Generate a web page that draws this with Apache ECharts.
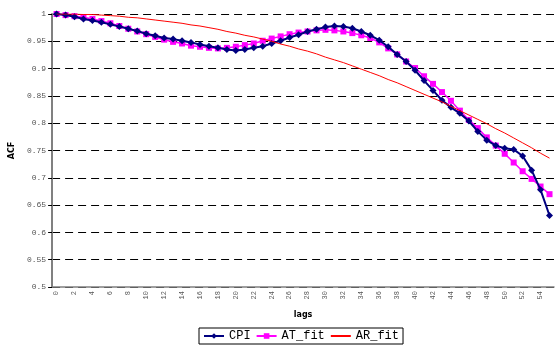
<!DOCTYPE html>
<html><head><meta charset="utf-8">
<script src="https://cdn.jsdelivr.net/npm/echarts@6/dist/echarts.min.js"></script>
<style>html,body{margin:0;padding:0;background:#fff}#c{width:557px;height:347px}</style>
</head><body><div id="c"></div>
<script>
const lags = [];
for (let i = 0; i <= 55; i++) lags.push(String(i));
const cpi = [1.000,0.998,0.995,0.991,0.988,0.985,0.981,0.977,0.973,0.969,
 0.964,0.960,0.956,0.954,0.951,0.948,0.944,0.941,0.938,0.935,
 0.933,0.935,0.938,0.941,0.946,0.951,0.957,0.962,0.968,0.972,
 0.976,0.978,0.977,0.974,0.968,0.961,0.952,0.940,0.926,0.913,
 0.897,0.878,0.860,0.842,0.829,0.818,0.804,0.785,0.769,0.759,
 0.754,0.752,0.740,0.714,0.678,0.631];
const atFit = [1.000,0.998,0.996,0.994,0.991,0.987,0.983,0.978,0.973,0.968,
 0.963,0.958,0.953,0.949,0.946,0.942,0.940,0.938,0.937,0.938,
 0.940,0.943,0.946,0.951,0.955,0.959,0.963,0.966,0.968,0.970,
 0.971,0.970,0.968,0.965,0.961,0.956,0.948,0.937,0.926,0.913,
 0.901,0.886,0.872,0.857,0.841,0.823,0.806,0.791,0.774,0.759,
 0.744,0.728,0.712,0.698,0.684,0.670];
const arFit = [1.000,1.000,1.000,0.999,0.999,0.998,0.997,0.996,0.994,0.993,
 0.991,0.989,0.987,0.985,0.983,0.980,0.978,0.975,0.972,0.968,
 0.965,0.961,0.958,0.954,0.950,0.945,0.941,0.936,0.932,0.927,
 0.921,0.916,0.911,0.905,0.899,0.893,0.887,0.880,0.874,0.867,
 0.860,0.853,0.846,0.839,0.831,0.823,0.815,0.807,0.799,0.790,
 0.782,0.773,0.764,0.755,0.745,0.736];

const mono = 'Liberation Mono, DejaVu Sans Mono, monospace';
const chart = echarts.init(document.getElementById('c'), null, {renderer: 'canvas'});
chart.setOption({
  animation: false,
  backgroundColor: '#fff',
  grid: {left: 46.5, right: 3, top: 14, bottom: 60, containLabel: false},
  legend: {
    bottom: 3, left: 199,
    data: [
      {name: 'CPI'},
      {name: 'AT_fit'},
      {name: 'AR_fit', itemStyle: {opacity: 0}}
    ],
    borderColor: '#000', borderWidth: 1, padding: [2, 4],
    itemGap: 5, itemWidth: 20, itemHeight: 7,
    textStyle: {fontFamily: mono, fontSize: 12, color: '#000'}
  },
  xAxis: {
    type: 'category', data: lags, boundaryGap: true,
    name: 'lags', nameLocation: 'middle', nameGap: 24,
    nameTextStyle: {fontFamily: 'DejaVu Sans', fontWeight: 'bold', fontSize: 8, color: '#000'},
    axisLine: {lineStyle: {color: '#808080', width: 1.5}},
    axisTick: {interval: 0, length: 3, lineStyle: {color: '#808080'}},
    axisLabel: {interval: 1, rotate: 90, fontFamily: mono, fontSize: 7, color: '#555', margin: 4},
    splitLine: {show: false}
  },
  yAxis: {
    type: 'value', min: 0.5, max: 1, interval: 0.05,
    name: 'ACF', nameLocation: 'middle', nameGap: 32, nameRotate: 90,
    nameTextStyle: {fontFamily: 'DejaVu Sans', fontWeight: 'bold', fontSize: 8, color: '#000'},
    axisLine: {show: true, lineStyle: {color: '#808080', width: 2}},
    axisTick: {show: true, length: 4, lineStyle: {color: '#000'}},
    axisLabel: {fontFamily: mono, fontSize: 8, color: '#555', margin: 6,
      formatter: v => String(Math.round(v * 100) / 100)},
    splitLine: {show: true, lineStyle: {color: '#000', width: 1, type: [8, 5]}}
  },
  series: [
    {name: 'CPI', type: 'line', data: cpi, symbol: 'diamond', symbolSize: 7, showAllSymbol: true,
     itemStyle: {color: '#000080'}, lineStyle: {color: '#000080', width: 2}, z: 3},
    {name: 'AT_fit', type: 'line', data: atFit, symbol: 'rect', symbolSize: 6, showAllSymbol: true,
     itemStyle: {color: '#FF00FF'}, lineStyle: {color: '#FF00FF', width: 1.5}, z: 2},
    {name: 'AR_fit', type: 'line', data: arFit, symbol: 'none',
     itemStyle: {color: '#FF0000'}, lineStyle: {color: '#FF0000', width: 1}, z: 4}
  ]
});
</script></body></html>
